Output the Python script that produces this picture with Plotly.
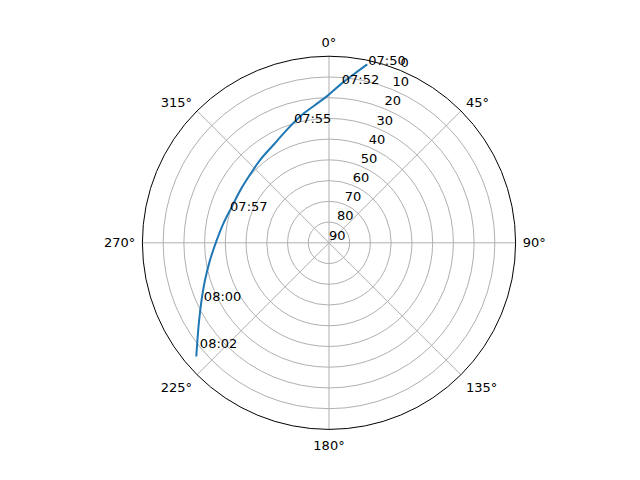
import plotly.graph_objects as go

# satellite pass, azimuth (deg, clockwise from north) and elevation (deg)
azimuth = [12.1, 8.6, 4.4, 359.5, 353.8, 347.4, 339.8, 330.7, 320.5, 311.5,
           301.0, 290.3, 280.3, 271.2, 261.5, 253.0, 245.5, 238.9, 233.2, 229.4]
elevation = [2.0, 7.5, 13.1, 19.0, 23.5, 27.3, 31.7, 35.6, 38.0, 39.6,
             40.3, 40.0, 38.2, 35.8, 31.9, 27.4, 22.4, 16.8, 10.7, 5.7]

# time labels along the track
label_times = ['07:50', '07:52', '07:55', '07:57', '08:00', '08:02']
label_az = [12.7, 4.7, 343.2, 286.3, 243.9, 230.0]
label_el = [3.9, 14.7, 31.5, 40.3, 22.8, 8.7]

theta_ticks = [0, 45, 90, 135, 180, 225, 270, 315]
r_ticks = [0, 10, 20, 30, 40, 50, 60, 70, 80, 90]
r_label_angle = 22.5

fig = go.Figure()
fig.add_trace(go.Scatterpolar(r=elevation, theta=azimuth, mode='lines',
                              line=dict(color='#1f77b4', width=2, shape='spline'),
                              showlegend=False, hoverinfo='skip'))
fig.add_trace(go.Scatterpolar(r=label_el, theta=label_az, mode='text',
                              text=label_times, textposition='top right',
                              textfont=dict(size=13, color='black'),
                              showlegend=False, hoverinfo='skip'))
# radial tick labels, matplotlib style (left/bottom anchored at 22.5 deg)
fig.add_trace(go.Scatterpolar(r=r_ticks, theta=[r_label_angle] * len(r_ticks),
                              mode='text', text=[str(v) for v in r_ticks],
                              textposition='top right',
                              textfont=dict(size=13, color='black'),
                              cliponaxis=False,
                              showlegend=False, hoverinfo='skip'))

fig.update_layout(
    width=640, height=480,
    paper_bgcolor='white',
    margin=dict(l=0, r=0, t=0, b=0),
    font=dict(family='DejaVu Sans', size=13, color='black'),
    polar=dict(
        domain=dict(x=[0.21, 0.7931], y=[0.12205, 0.89955]),
        bgcolor='white',
        angularaxis=dict(rotation=90, direction='clockwise',
                         tickvals=theta_ticks,
                         ticktext=[f'{t}°' for t in theta_ticks],
                         showline=True, linecolor='black', linewidth=1,
                         gridcolor='#b0b0b0', gridwidth=1,
                         ticks='outside', ticklen=4,
                         tickcolor='rgba(0,0,0,0)'),
        radialaxis=dict(range=[90, 0], tickvals=r_ticks,
                        showline=False, showticklabels=False,
                        gridcolor='#b0b0b0', gridwidth=1,
                        ticks='', angle=67.5),
    ),
)

fig.write_html('out.html')
